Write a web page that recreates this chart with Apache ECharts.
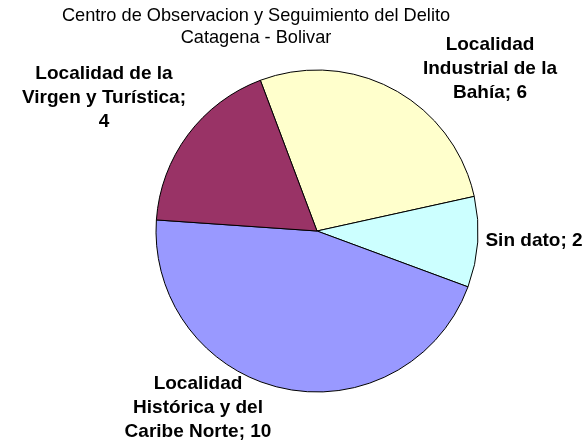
<!DOCTYPE html>
<html>
<head>
<meta charset="utf-8">
<script src="https://cdn.jsdelivr.net/npm/echarts@6/dist/echarts.min.js"></script>
<style>
html,body{margin:0;padding:0;background:#fff;}
#chart{width:586px;height:447px;}
</style>
</head>
<body>
<div id="chart"></div>
<script>
// ---- data ----
var categories = [
  'Localidad\nIndustrial de la\nBahía',
  'Sin dato',
  'Localidad\nHistórica y del\nCaribe Norte',
  'Localidad de la\nVirgen y Turística'
];
var values = [6, 2, 10, 4];
var labelSeparators = ['; ', '; ', '; ', ';\n'];
var titleLines = ['Centro de Observacion y Seguimiento del Delito', 'Catagena - Bolivar'];

// ---- styles / layout (kept apart from data) ----
var sliceColors = ['#FFFFCC', '#CCFFFF', '#9999FF', '#993366'];
var labelAnchors = [[490, 69], [534, 241], [198, 408], [104, 98]];

var chart = echarts.init(document.getElementById('chart'), null, {renderer: 'canvas'});
chart.setOption({
  animation: false,
  backgroundColor: '#ffffff',
  graphic: titleLines.map(function (t, i) {
    return {
      type: 'text', x: 256, y: 16 + i * 22,
      style: {text: t, align: 'center', verticalAlign: 'middle',
        font: 'normal 18.2px "Liberation Sans", Arial, sans-serif', fill: '#000'}
    };
  }),
  series: [{
    type: 'pie',
    center: [317, 231],
    radius: 161,
    startAngle: 110.6,
    clockwise: true,
    data: categories.map(function (c, i) {
      return {name: c, value: values[i], itemStyle: {color: sliceColors[i]}};
    }),
    itemStyle: {borderColor: '#000', borderWidth: 1},
    emphasis: {disabled: true},
    label: {
      show: true, position: 'outside', alignTo: 'none', overflow: 'none',
      formatter: function (p) { return p.name + labelSeparators[p.dataIndex] + p.value; },
      fontFamily: '"Liberation Sans", Arial, sans-serif',
      fontWeight: 'bold', fontSize: 19, lineHeight: 24, color: '#000', align: 'center'
    },
    labelLine: {show: false},
    labelLayout: function (p) {
      var a = labelAnchors[p.dataIndex];
      return {x: a[0], y: a[1], align: 'center', verticalAlign: 'middle', width: 300};
    }
  }]
});
</script>
</body>
</html>
